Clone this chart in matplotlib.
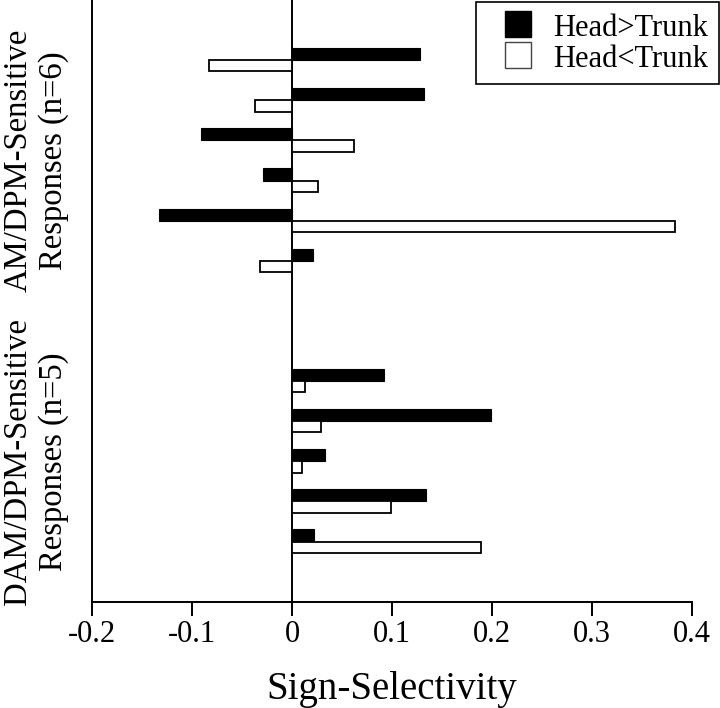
import numpy as np
import matplotlib
matplotlib.use('Agg')
import matplotlib.pyplot as plt
from matplotlib.lines import Line2D

plt.rcParams['font.family'] = ['Liberation Serif', 'DejaVu Serif']

# AM/DPM-sensitive responses (n=6)
am_head_gt = [0.128, 0.132, -0.091, -0.029, -0.133, 0.021]
am_head_lt = [-0.083, -0.037, 0.062, 0.026, 0.383, -0.032]
# DAM/DPM-sensitive responses (n=5)
dam_head_gt = [0.092, 0.199, 0.033, 0.134, 0.022]
dam_head_lt = [0.013, 0.029, 0.010, 0.099, 0.189]

group_labels = ['AM/DPM-Sensitive\nResponses (n=6)', 'DAM/DPM-Sensitive\nResponses (n=5)']
series_labels = ['Head>Trunk', 'Head<Trunk']
xticks = [-0.2, -0.1, 0, 0.1, 0.2, 0.3, 0.4]

fig = plt.figure(figsize=(7.2, 7.08), dpi=100)
ax = fig.add_axes([92/720, 1 - 601.7/708, 600/720, 601.7/708])

pos1 = np.arange(len(am_head_gt))
pos2 = np.arange(len(dam_head_gt)) + len(am_head_gt) + 2
pos = np.concatenate([pos1, pos2])
head_gt = am_head_gt + dam_head_gt
head_lt = am_head_lt + dam_head_lt

ax.barh(pos - 0.3, head_gt, height=0.3, align='edge', color='black',
        edgecolor='black', linewidth=0.8)
ax.barh(pos, head_lt, height=0.28, align='edge', color='white',
        edgecolor='black', linewidth=1.3)

ax.axvline(0, color='black', linewidth=1.4, zorder=0)

ax.set_xlim(-0.2, 0.4)
ax.set_ylim(13.5, -1.5)
ax.set_xticks(xticks)
ax.set_xticklabels(['-0.2', '-0.1', '0', '0.1', '0.2', '0.3', '0.4'])
ax.set_yticks([])
ax.tick_params(axis='x', direction='out', length=10, width=1.4, pad=3, labelsize=22)
for s in ['top', 'right']:
    ax.spines[s].set_visible(False)
for s in ['left', 'bottom']:
    ax.spines[s].set_linewidth(1.4)

ax.set_xlabel('Sign-Selectivity', fontsize=28, labelpad=16)

tr = ax.get_yaxis_transform()
ax.text(-0.093, pos1.mean(), group_labels[0], transform=tr, rotation=90,
        ha='center', va='center', fontsize=23.5, linespacing=1.22)
ax.text(-0.093, pos2.mean(), group_labels[1], transform=tr, rotation=90,
        ha='center', va='center', fontsize=23.5, linespacing=1.22)

handles = [Line2D([], [], linestyle='none', marker='s', markersize=19,
                  markerfacecolor='black', markeredgecolor='black', markeredgewidth=1),
           Line2D([], [], linestyle='none', marker='s', markersize=19,
                  markerfacecolor='white', markeredgecolor='#444444', markeredgewidth=1)]
leg = fig.legend(handles, series_labels, loc='upper right',
                 bbox_to_anchor=(719/720, 1 - 2/708), fontsize=22,
                 handlelength=2.1, handleheight=0.9, handletextpad=0.1,
                 labelspacing=0.02, borderpad=0.35, borderaxespad=0, fancybox=False,
                 edgecolor='black', framealpha=1)
leg.get_frame().set_linewidth(1.2)

fig.savefig('out.png', dpi=100)
